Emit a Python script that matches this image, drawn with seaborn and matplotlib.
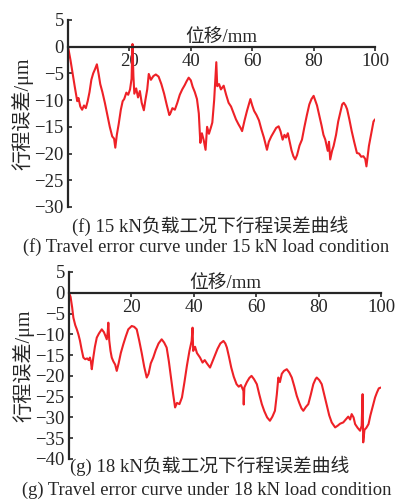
import numpy as np
import pandas as pd
import matplotlib
matplotlib.use("Agg")
import matplotlib.pyplot as plt
import seaborn as sns

# 15 kN load: displacement (mm) vs travel error (um)
x_15kn = [0, 0.8, 1.5, 2.2, 3.0, 3.4, 4.0, 4.6, 5.2, 5.8, 6.4, 7.0, 7.6, 8.2, 8.8, 9.4,
          10.0, 10.5, 11.2, 12.0, 12.8, 13.6, 14.4, 15.0, 15.4, 15.9, 16.5, 17.2, 17.8,
          18.3, 19.0, 19.6, 20.2, 20.7, 21.0, 21.3, 21.6, 22.2, 22.8, 23.4, 24.0, 24.7,
          25.2, 25.8, 26.3, 27.0, 27.8, 28.6, 29.5, 30.4, 31.3, 32.2, 33.0, 33.4, 34.0,
          34.8, 35.6, 36.4, 37.2, 38.0, 38.6, 39.3, 40.0, 40.6, 41.3, 42.0, 42.6, 43.1,
          43.6, 44.2, 44.8, 45.3, 45.9, 46.5, 47.0, 47.6, 48.0, 48.3, 48.6, 49.2, 49.8,
          50.7, 51.5, 52.3, 53.1, 53.9, 54.7, 55.5, 56.2, 56.7, 57.5, 58.3, 58.9, 59.4,
          60.0, 60.6, 61.4, 62.2, 63.0, 63.8, 64.4, 64.8, 65.4, 66.2, 67.0, 67.8, 68.6,
          69.2, 69.9, 70.5, 71.0, 71.6, 72.2, 72.8, 73.4, 74.0, 74.6, 75.4, 76.2, 77.0,
          77.8, 78.6, 79.3, 80.0, 80.5, 81.1, 81.8, 82.6, 83.2, 83.8, 84.6, 85.0, 85.4,
          86.0, 86.5, 87.3, 88.0, 88.8, 89.3, 89.8, 90.4, 90.9, 91.6, 92.4, 93.2, 94.1,
          94.8, 95.5, 96.2, 96.8, 97.2, 97.6, 98.0, 98.4, 99.0, 99.5, 100]
err_15kn = [0, -2.5, -5.0, -7.5, -10.2, -9.6, -11.2, -11.8, -11.0, -11.5, -10.2, -8.5,
            -6.2, -5.0, -4.2, -3.3, -5.2, -7.0, -8.5, -10.5, -12.8, -15.0, -16.8, -17.2,
            -18.9, -16.5, -14.5, -11.8, -10.2, -9.8, -8.6, -9.0, -8.0, -6.0, 0.5, -5.5,
            -8.8, -7.8, -9.5, -8.3, -10.5, -11.9, -10.0, -8.0, -5.1, -6.2, -5.5, -5.2,
            -5.6, -7.0, -8.8, -11.0, -12.8, -12.4, -11.5, -11.8, -10.5, -9.0, -8.0, -7.2,
            -6.5, -5.8, -6.3, -7.5, -8.5, -9.8, -12.5, -18.0, -16.2, -17.5, -19.3, -15.0,
            -16.3, -15.2, -14.2, -10.0, -6.0, -2.9, -7.4, -7.0, -8.0, -7.3, -9.0, -10.5,
            -11.2, -12.4, -13.6, -14.5, -15.2, -15.8, -13.8, -12.0, -10.8, -9.8, -11.0,
            -12.0, -12.8, -13.8, -15.5, -17.0, -18.4, -19.3, -17.8, -16.8, -16.0, -15.2,
            -14.9, -15.8, -17.4, -16.5, -17.0, -16.2, -17.8, -19.4, -20.5, -21.1, -20.3,
            -18.5, -17.4, -15.0, -12.8, -10.8, -9.8, -9.2, -10.0, -11.0, -12.8, -14.8,
            -16.5, -17.4, -19.5, -17.8, -21.1, -19.5, -18.6, -16.5, -14.0, -12.0, -10.8,
            -10.5, -11.0, -11.7, -13.5, -15.8, -17.8, -19.9, -20.0, -20.6, -20.5, -21.0,
            -22.4, -20.5, -18.6, -17.4, -15.5, -14.0, -13.6]

# 18 kN load
x_18kn = [0, 0.5, 1.0, 1.4, 2.0, 2.5, 3.0, 3.5, 4.0, 4.6, 5.2, 5.8, 6.3, 6.7, 7.0, 7.3,
          7.8, 8.3, 8.9, 9.6, 10.5, 11.2, 12.1, 12.4, 12.6, 12.9, 13.3, 13.7, 14.2, 14.8,
          15.3, 15.9, 16.6, 17.4, 18.2, 19.0, 20.1, 20.9, 21.7, 22.5, 23.3, 24.1, 24.9,
          25.5, 26.2, 27.0, 27.8, 28.7, 29.7, 30.5, 31.3, 32.0, 32.7, 33.4, 34.0, 34.6,
          35.4, 36.2, 37.0, 37.8, 38.6, 39.3, 39.6, 39.8, 40.4, 41.0, 42.0, 42.8, 43.5,
          44.2, 45.2, 46.0, 46.8, 47.6, 48.5, 49.5, 50.1, 50.6, 51.3, 52.0, 52.8, 53.7,
          54.4, 55.1, 55.9, 56.0, 56.2, 57.0, 57.8, 58.5, 59.3, 60.2, 61.0, 61.8, 62.6,
          63.5, 64.4, 65.2, 66.0, 66.6, 67.1, 67.6, 68.2, 68.9, 69.8, 70.6, 71.4, 72.2,
          73.0, 73.8, 74.5, 75.1, 75.9, 76.7, 77.5, 78.3, 79.0, 79.4, 80.2, 81.0, 81.8,
          82.6, 83.4, 84.2, 85.3, 86.1, 86.9, 87.9, 88.7, 89.5, 90.1, 90.6, 91.2, 91.7,
          92.5, 93.3, 93.8, 94.1, 94.3, 94.7, 95.3, 96.0, 96.6, 97.3, 98.1, 98.7, 99.3, 100]
err_18kn = [0, -1.0, -3.5, -6.0, -7.8, -8.8, -10.0, -11.5, -13.5, -15.6, -16.0, -15.8,
            -16.2, -15.6, -16.5, -18.4, -15.5, -13.0, -10.8, -9.8, -8.8, -9.5, -11.2,
            -9.5, -7.2, -11.5, -14.0, -15.6, -16.5, -17.3, -18.8, -17.0, -14.5, -12.4,
            -10.5, -8.8, -8.0, -8.2, -8.8, -11.5, -14.5, -17.8, -20.4, -19.5, -17.0,
            -15.6, -13.8, -12.2, -11.2, -12.0, -13.2, -16.5, -20.5, -24.5, -27.6, -26.5,
            -26.8, -25.2, -21.5, -17.5, -14.0, -11.6, -8.4, -14.0, -13.0, -14.5, -15.6,
            -16.8, -16.2, -17.0, -18.0, -16.5, -15.0, -13.5, -12.2, -11.6, -12.2, -13.2,
            -15.5, -18.0, -20.2, -22.0, -22.6, -22.2, -23.6, -26.9, -22.8, -21.5, -20.5,
            -20.0, -20.8, -22.0, -24.5, -26.8, -28.5, -30.0, -30.8, -29.8, -28.4, -24.5,
            -20.4, -21.5, -19.5, -18.8, -18.4, -19.2, -20.4, -22.5, -24.8, -26.5, -27.8,
            -28.4, -27.5, -26.8, -24.5, -22.0, -20.8, -20.4, -21.0, -22.0, -24.5, -27.0,
            -29.5, -31.2, -32.4, -32.0, -31.5, -31.2, -30.5, -29.8, -30.5, -29.2, -30.0,
            -31.6, -32.5, -33.2, -32.0, -24.4, -36.0, -33.0, -32.5, -31.6, -29.5, -27.5,
            -25.2, -24.0, -23.0, -22.8]

x_ticks = [20, 40, 60, 80, 100]
captions_cn = ["(f) 15 kN负载工况下行程误差曲线", "(g) 18 kN负载工况下行程误差曲线"]
captions_en = ["(f) Travel error curve under 15 kN load condition",
               "(g) Travel error curve under 18 kN load condition"]

sns.set_style("ticks")
plt.rcParams["font.family"] = ["Liberation Serif", "Noto Sans CJK SC"]
plt.rcParams["axes.unicode_minus"] = True

LINE_COLOR = "#ee2127"
FS = 13.5

fig = plt.figure(figsize=(3.98, 5.03), dpi=100)
ax1 = fig.add_axes([0.1709, 0.5885, 0.7714, 0.3718])
ax2 = fig.add_axes([0.1734, 0.0875, 0.7839, 0.3718])


def draw(ax, xs, ys, ylim, yticks):
    df = pd.DataFrame({"x": xs, "y": ys})
    sns.lineplot(data=df, x="x", y="y", ax=ax, color=LINE_COLOR, lw=1.5,
                 sort=False, estimator=None)
    ax.set_xlim(0, 100)
    ax.set_ylim(*ylim)
    ax.set_xticks(x_ticks)
    ax.set_yticks(yticks)
    ax.spines["top"].set_visible(False)
    ax.spines["right"].set_visible(False)
    ax.spines["bottom"].set_position(("data", 0))
    ax.spines["left"].set_linewidth(1.6)
    ax.spines["bottom"].set_linewidth(1.6)
    ax.tick_params(axis="x", direction="out", length=3, width=1.2, labelsize=FS, pad=1.5)
    ax.tick_params(axis="y", direction="in", length=3, width=1.2, labelsize=FS, pad=3)
    ax.set_xlabel("位移/mm", fontsize=FS)
    frac0 = (0 - ylim[0]) / (ylim[1] - ylim[0])
    ax.xaxis.set_label_coords(0.5, frac0 + 0.005)
    ax.xaxis.label.set_va("bottom")
    ax.set_ylabel("行程误差/μm", fontsize=14.5, labelpad=1)


draw(ax1, x_15kn, err_15kn, (-30, 5), np.arange(-30, 6, 5))
draw(ax2, x_18kn, err_18kn, (-40, 5), np.arange(-40, 6, 5))

fig.text(210 / 398, 1 - 226 / 503, captions_cn[0], ha="center", va="center", fontsize=FS)
fig.text(206 / 398, 1 - 247 / 503, captions_en[0], ha="center", va="center", fontsize=13.3)
fig.text(210 / 398, 1 - 466 / 503, captions_cn[1], ha="center", va="center", fontsize=FS)
fig.text(207 / 398, 1 - 490 / 503, captions_en[1], ha="center", va="center", fontsize=13.3)

fig.savefig("out.png", dpi=100)
